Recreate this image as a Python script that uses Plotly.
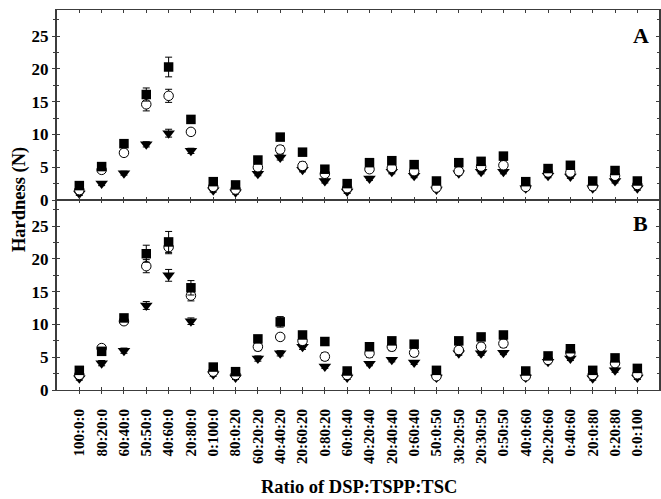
import plotly.graph_objects as go

# DSP:TSPP:TSC ratios (x categories)
ratios = ["100:0:0", "80:20:0", "60:40:0", "50:50:0", "40:60:0", "20:80:0", "0:100:0",
          "80:0:20", "60:20:20", "40:40:20", "20:60:20", "0:80:20", "60:0:40", "40:20:40",
          "20:40:40", "0:60:40", "50:0:50", "30:20:50", "20:30:50", "0:50:50", "40:0:60",
          "20:20:60", "0:40:60", "20:0:80", "0:20:80", "0:0:100"]

# Panel A hardness (N)
a_square = [2.2, 5.1, 8.6, 16.1, 20.3, 12.3, 2.8, 2.3, 6.1, 9.6, 7.3, 4.7, 2.5, 5.7,
            6.0, 5.4, 2.9, 5.7, 5.9, 6.7, 2.8, 4.8, 5.3, 2.9, 4.5, 2.9]
a_square_err = [0.3, 0.3, 0.4, 1.0, 1.5, 0.5, 0.3, 0.3, 0.3, 0.4, 0.3, 0.3, 0.3, 0.3,
                0.3, 0.3, 0.3, 0.3, 0.3, 0.4, 0.3, 0.3, 0.3, 0.3, 0.3, 0.3]
a_circle = [1.5, 4.6, 7.2, 14.6, 15.9, 10.4, 2.0, 1.6, 5.0, 7.7, 5.2, 4.0, 1.8, 4.7,
            4.9, 4.4, 1.9, 4.4, 5.1, 5.3, 2.0, 4.2, 4.2, 2.1, 3.7, 2.3]
a_circle_err = [0.4, 0.4, 0.5, 1.0, 1.0, 0.5, 0.4, 0.4, 0.5, 0.6, 0.6, 0.5, 0.4, 0.5,
                0.5, 0.5, 0.4, 0.5, 0.5, 0.7, 0.4, 0.5, 0.5, 0.4, 0.5, 0.4]
a_triangle = [1.0, 2.5, 4.1, 8.5, 10.2, 7.5, 1.5, 1.2, 4.0, 6.5, 4.6, 2.9, 1.3, 3.3,
              4.3, 3.7, 1.6, 4.1, 4.3, 4.3, 1.8, 3.7, 3.6, 1.8, 2.9, 1.8]
a_triangle_err = [0.3, 0.3, 0.3, 0.4, 0.6, 0.4, 0.3, 0.3, 0.3, 0.4, 0.3, 0.3, 0.3, 0.3,
                  0.3, 0.3, 0.3, 0.3, 0.3, 0.3, 0.3, 0.3, 0.3, 0.3, 0.3, 0.3]

# Panel B hardness (N)
b_square = [3.0, 5.9, 11.0, 20.8, 22.6, 15.6, 3.5, 2.8, 7.8, 10.4, 8.4, 7.4, 2.9, 6.6,
            7.5, 7.0, 3.0, 7.5, 8.1, 8.4, 2.9, 5.2, 6.3, 3.0, 4.9, 3.3]
b_square_err = [0.3, 0.4, 0.5, 1.3, 1.6, 1.1, 0.3, 0.3, 0.4, 0.8, 0.4, 0.3, 0.3, 0.3,
                0.3, 0.3, 0.3, 0.3, 0.3, 0.4, 0.3, 0.3, 0.3, 0.3, 0.3, 0.3]
b_circle = [2.3, 6.4, 10.5, 18.9, 21.8, 14.4, 2.8, 2.3, 6.6, 8.1, 7.5, 5.1, 2.3, 5.6,
            6.6, 5.7, 2.1, 6.1, 6.6, 7.1, 2.1, 4.6, 5.7, 2.3, 4.1, 2.4]
b_circle_err = [0.4, 0.5, 0.5, 1.0, 1.0, 0.8, 0.4, 0.4, 0.6, 0.5, 0.5, 0.6, 0.4, 0.6,
                0.6, 0.6, 0.4, 0.6, 0.6, 0.6, 0.4, 0.4, 0.5, 0.4, 0.6, 0.4]
b_triangle = [1.8, 4.1, 6.0, 12.9, 17.5, 10.5, 2.4, 1.9, 4.8, 5.6, 6.6, 3.6, 1.9, 4.0,
              4.6, 4.2, 1.9, 5.6, 5.6, 5.7, 1.9, 4.3, 4.8, 1.8, 3.0, 1.9]
b_triangle_err = [0.3, 0.4, 0.4, 0.6, 0.9, 0.5, 0.3, 0.3, 0.4, 0.4, 0.4, 0.3, 0.3, 0.3,
                  0.3, 0.3, 0.3, 0.3, 0.3, 0.3, 0.3, 0.3, 0.3, 0.3, 0.3, 0.3]

y_ticks = [0, 5, 10, 15, 20, 25]
y_minor = [2.5, 7.5, 12.5, 17.5, 22.5, 27.5]

FONT = "Liberation Serif, Times New Roman, serif"
INK = "black"
AXIS = "#3c3c3c"
pos = list(range(len(ratios)))
x_range = [-1.0, 25.97]
y_range = [0, 29]

fig = go.Figure()


def err(values):
    return dict(type="data", array=values, color=INK, thickness=1, width=3.5)


def add_panel(xa, ya, sq, sq_e, ci, ci_e, tr, tr_e):
    fig.add_trace(go.Scatter(
        x=pos, y=tr, error_y=err(tr_e), mode="markers",
        marker=dict(symbol="triangle-down", size=11, color=INK, line=dict(width=0)),
        xaxis=xa, yaxis=ya, showlegend=False))
    fig.add_trace(go.Scatter(
        x=pos, y=ci, error_y=err(ci_e), mode="markers",
        marker=dict(symbol="circle", size=9.5, color="white", line=dict(color=INK, width=1)),
        xaxis=xa, yaxis=ya, showlegend=False))
    fig.add_trace(go.Scatter(
        x=pos, y=sq, error_y=err(sq_e), mode="markers",
        marker=dict(symbol="square", size=9.5, color=INK, line=dict(width=0)),
        xaxis=xa, yaxis=ya, showlegend=False))


add_panel("x", "y", a_square, a_square_err, a_circle, a_circle_err, a_triangle, a_triangle_err)
add_panel("x2", "y2", b_square, b_square_err, b_circle, b_circle_err, b_triangle, b_triangle_err)

# transparent copies so the outer tick axes get drawn
fig.add_trace(go.Scatter(x=pos, y=a_square, xaxis="x", yaxis="y3", mode="markers",
                         marker=dict(opacity=0), hoverinfo="skip", showlegend=False))
fig.add_trace(go.Scatter(x=pos, y=b_square, xaxis="x3", yaxis="y4", mode="markers",
                         marker=dict(opacity=0), hoverinfo="skip", showlegend=False))

xbase = dict(range=x_range, tickvals=pos, showgrid=False, zeroline=False,
             showline=True, linecolor=AXIS, linewidth=1.2,
             ticks="inside", ticklen=3, tickcolor=AXIS, tickwidth=1.2, mirror="ticks")
ybase = dict(range=y_range, tickvals=y_ticks, showgrid=False, zeroline=False,
             showline=True, linecolor=AXIS, linewidth=1.5,
             ticks="inside", ticklen=3, tickcolor=AXIS, tickwidth=1.2, mirror="ticks",
             showticklabels=False,
             minor=dict(tickvals=y_minor, ticks="inside",
                        ticklen=2, tickcolor=AXIS, tickwidth=1))
ylab = dict(range=y_range, tickvals=y_ticks, showgrid=False, zeroline=False,
            showline=False, side="left",
            ticks="outside", ticklen=4, tickcolor=AXIS, tickwidth=1.2,
            tickfont=dict(family=FONT, size=17, color=INK, weight="bold"),
            minor=dict(tickvals=y_minor, ticks="outside",
                       ticklen=3, tickcolor=AXIS, tickwidth=1))

fig.update_layout(
    width=661, height=499,
    margin=dict(l=57, r=0, t=10, b=109),
    paper_bgcolor="white", plot_bgcolor="white",
    xaxis=dict(**xbase, domain=[0, 1], anchor="y", showticklabels=False),
    yaxis=dict(**ybase, domain=[0.5, 1], anchor="x"),
    xaxis2=dict(**xbase, domain=[0, 1], anchor="y2", ticktext=ratios,
                showticklabels=True, tickangle=-90, ticklabelstandoff=12,
                tickfont=dict(family=FONT, size=15, color=INK, weight="bold")),
    yaxis2=dict(**ybase, domain=[0, 0.5], anchor="x2"),
    xaxis3=dict(range=x_range, tickvals=pos, overlaying="x2", anchor="y2", side="bottom",
                showgrid=False, zeroline=False, showline=False, showticklabels=False,
                ticks="outside", ticklen=3, tickcolor=AXIS, tickwidth=1.2),
    yaxis3=dict(**ylab, overlaying="y", anchor="x"),
    yaxis4=dict(**ylab, overlaying="y2", anchor="x2"),
)

title_font = dict(family=FONT, size=18.5, color=INK, weight="bold")
fig.add_annotation(text="Hardness (N)", textangle=-90, xref="paper", yref="paper",
                   x=-0.063, y=0.5, xanchor="center", yanchor="middle",
                   showarrow=False, font=title_font)
fig.add_annotation(text="Ratio of DSP:TSPP:TSC", xref="paper", yref="paper",
                   x=0.502, y=-0.255, xanchor="center", yanchor="middle",
                   showarrow=False, font=title_font)

panel_font = dict(family=FONT, size=22, color=INK, weight="bold")
fig.add_annotation(text="A", xref="x domain", yref="y domain", x=0.97, y=0.868,
                   xanchor="center", yanchor="middle", showarrow=False, font=panel_font)
fig.add_annotation(text="B", xref="x2 domain", yref="y2 domain", x=0.97, y=0.877,
                   xanchor="center", yanchor="middle", showarrow=False, font=panel_font)

fig.write_html("out.html")
